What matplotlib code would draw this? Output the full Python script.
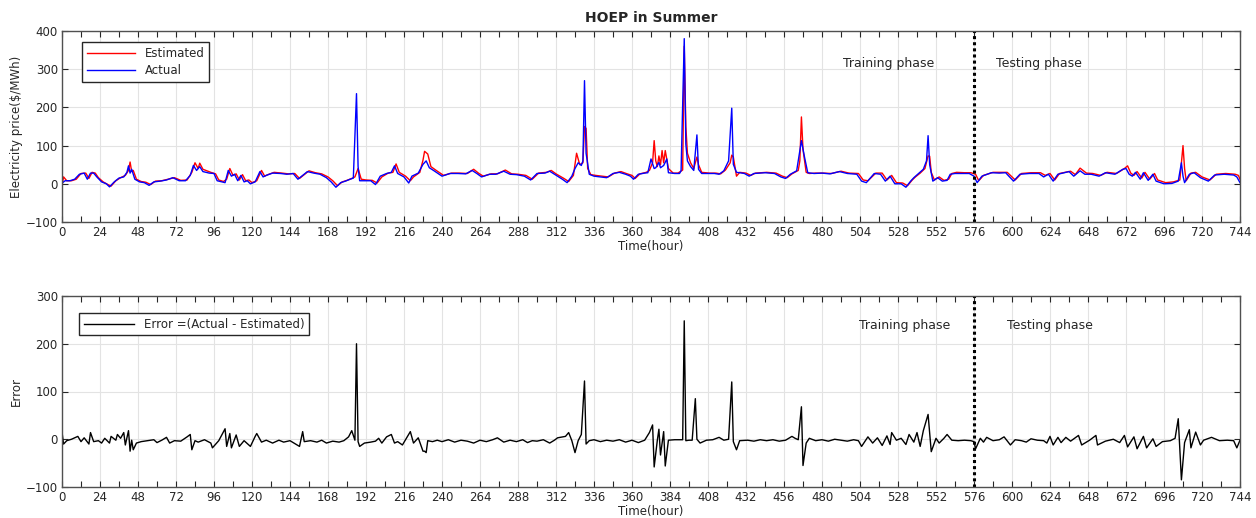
import matplotlib
matplotlib.use("Agg")
import matplotlib.pyplot as plt
from matplotlib.ticker import MultipleLocator

# hourly electricity price (hour, $/MWh)
actual_hour = [0, 2, 5, 8, 11, 14, 16, 18, 20, 22,
               25, 28, 30, 33, 36, 39, 41, 42, 43, 44,
               46, 49, 52, 55, 58, 62, 66, 70, 74, 78,
               81, 83, 85, 87, 89, 93, 96, 98, 101, 103,
               105, 107, 109, 111, 113, 115, 117, 119, 122, 125,
               127, 129, 133, 138, 142, 146, 149, 152, 155, 159,
               163, 167, 170, 173, 176, 179, 182, 184, 186, 187,
               188, 191, 195, 198, 201, 205, 208, 210, 212, 216,
               219, 221, 225, 228, 230, 232, 235, 240, 245, 250,
               255, 259, 262, 265, 270, 274, 279, 283, 287, 292,
               296, 300, 305, 308, 311, 316, 319, 322, 324, 326,
               328, 329, 330, 331, 333, 336, 340, 344, 348, 352,
               356, 359, 361, 364, 368, 370, 372, 374, 375, 377,
               378, 380, 382, 383, 387, 390, 391, 393, 394, 395,
               397, 399, 401, 402, 404, 408, 412, 415, 418, 421,
               423, 424, 426, 428, 431, 434, 437, 444, 450, 454,
               457, 460, 464, 467, 469, 471, 475, 480, 485, 491,
               496, 502, 505, 508, 513, 517, 520, 523, 526, 530,
               533, 536, 538, 541, 544, 546, 547, 548, 550, 553,
               556, 559, 561, 564, 569, 573, 576, 578, 581, 587,
               592, 596, 598, 601, 605, 611, 617, 620, 623, 626,
               629, 636, 639, 643, 646, 650, 655, 659, 665, 670,
               672, 674, 676, 678, 681, 683, 686, 689, 691, 696,
               701, 705, 707, 708, 709, 712, 715, 719, 724, 728,
               734, 740, 742, 744]
actual_price = [2, 8, 8, 12, 25, 28, 12, 28, 28, 18,
                5, 0, -8, 5, 15, 18, 30, 47, 28, 38,
                12, 5, 3, -4, 5, 7, 10, 16, 8, 8,
                22, 48, 35, 45, 32, 28, 27, 8, 5, 3,
                35, 20, 25, 8, 22, 5, 8, 0, 5, 32,
                18, 22, 28, 27, 25, 27, 12, 22, 32, 28,
                25, 16, 5, -9, 3, 7, 12, 15, 236, 45,
                8, 8, 8, -2, 20, 27, 30, 47, 27, 18,
                2, 20, 28, 51, 60, 42, 34, 20, 27, 27,
                26, 35, 27, 18, 25, 25, 33, 25, 24, 20,
                10, 27, 28, 33, 25, 12, 3, 20, 40, 55,
                48, 60, 270, 80, 25, 20, 18, 16, 27, 30,
                25, 20, 12, 25, 28, 29, 65, 40, 42, 56,
                42, 48, 65, 29, 27, 27, 34, 380, 104, 60,
                45, 35, 128, 38, 27, 27, 27, 25, 34, 60,
                198, 51, 30, 29, 27, 20, 27, 29, 27, 18,
                14, 25, 34, 113, 69, 29, 27, 28, 26, 32,
                27, 25, 7, 3, 27, 25, 7, 20, 0, 0,
                -9, 7, 16, 27, 38, 60, 126, 50, 7, 16,
                7, 9, 25, 27, 27, 27, 20, 3, 20, 29,
                28, 29, 20, 7, 25, 27, 27, 18, 25, 7,
                25, 32, 20, 34, 25, 25, 20, 29, 25, 38,
                40, 25, 20, 30, 12, 29, 9, 25, 7, 0,
                1, 7, 55, 20, 3, 25, 29, 16, 7, 23,
                25, 23, 18, 3]

est_hour = [0, 1, 3, 6, 9, 12, 15, 17, 19, 21,
            23, 26, 29, 31, 34, 37, 40, 42, 43, 44,
            45, 47, 50, 53, 56, 59, 63, 67, 71, 75,
            79, 82, 84, 86, 87, 89, 94, 97, 99, 102,
            104, 106, 108, 110, 112, 114, 116, 118, 120, 123,
            126, 128, 130, 134, 139, 143, 147, 150, 153, 156,
            160, 164, 168, 171, 174, 177, 180, 183, 185, 187,
            189, 192, 196, 199, 202, 206, 209, 211, 213, 217,
            220, 222, 226, 228, 229, 231, 233, 236, 241, 246,
            251, 256, 260, 263, 266, 271, 275, 280, 284, 288,
            293, 297, 301, 306, 309, 312, 317, 320, 323, 325,
            327, 329, 330, 331, 332, 334, 337, 341, 345, 349,
            353, 357, 360, 362, 365, 369, 371, 373, 374, 375,
            376, 377, 378, 379, 380, 381, 383, 386, 389, 392,
            393, 394, 395, 397, 399, 401, 402, 404, 409, 413,
            416, 419, 422, 423, 424, 425, 426, 428, 432, 435,
            438, 445, 451, 455, 458, 461, 465, 466, 467, 468,
            470, 472, 476, 481, 486, 492, 497, 503, 506, 509,
            514, 518, 521, 524, 527, 531, 534, 537, 539, 542,
            545, 547, 548, 549, 551, 554, 557, 560, 562, 565,
            570, 574, 577, 579, 582, 588, 593, 597, 599, 602,
            606, 612, 618, 621, 624, 627, 630, 637, 640, 643,
            647, 651, 656, 660, 666, 671, 673, 675, 677, 679,
            682, 684, 687, 690, 692, 697, 702, 706, 708, 709,
            710, 713, 716, 720, 725, 729, 735, 741, 743, 744]
est_price = [-5, 18, 8, 8, 12, 27, 28, 14, 30, 28,
             16, 5, -2, -6, 8, 16, 22, 35, 57, 32,
             35, 12, 6, 4, -2, 7, 8, 12, 16, 9,
             10, 30, 55, 40, 54, 38, 30, 26, 10, 6,
             12, 40, 22, 26, 10, 24, 8, 10, 3, 8,
             35, 20, 24, 30, 28, 26, 27, 14, 24, 34,
             29, 26, 18, 8, -5, 5, 9, 14, 18, 40,
             12, 10, 9, 2, 18, 28, 30, 52, 30, 20,
             8, 18, 30, 62, 85, 78, 45, 36, 22, 28,
             28, 27, 38, 28, 20, 26, 26, 36, 26, 25,
             22, 12, 28, 30, 35, 26, 14, 6, 22, 80,
             50, 55, 150, 145, 40, 24, 22, 20, 18, 28,
             32, 26, 22, 14, 26, 30, 35, 55, 113, 60,
             45, 73, 50, 87, 55, 87, 40, 28, 28, 36,
             360, 150, 80, 55, 40, 70, 50, 30, 28, 28,
             26, 36, 55, 75, 70, 45, 20, 30, 28, 22,
             28, 30, 28, 20, 16, 26, 35, 60, 175, 90,
             30, 27, 28, 28, 27, 33, 28, 27, 10, 8,
             28, 28, 10, 22, 3, 2, -5, 10, 18, 28,
             40, 73, 72, 30, 10, 18, 9, 12, 27, 30,
             29, 29, 25, 8, 22, 30, 30, 30, 22, 10,
             27, 29, 29, 22, 27, 10, 27, 33, 24, 41,
             28, 27, 22, 30, 27, 40, 47, 28, 22, 32,
             15, 30, 12, 27, 10, 3, 5, 10, 100, 40,
             8, 28, 30, 18, 10, 25, 27, 25, 22, 12]

# error = actual - estimated, as drawn in the lower panel
err_hour = [0, 1, 3, 6, 10, 12, 14, 17, 18, 20,
            23, 25, 27, 30, 31, 34, 35, 37, 39, 40,
            42, 43, 44, 45, 47, 50, 54, 58, 60, 63,
            66, 68, 71, 75, 79, 81, 82, 84, 86, 90,
            94, 95, 99, 103, 104, 106, 107, 110, 112, 115,
            119, 122, 123, 126, 129, 133, 137, 140, 144, 150,
            152, 153, 157, 161, 164, 167, 171, 175, 178, 181,
            183, 185, 186, 187, 188, 191, 195, 198, 200, 202,
            205, 208, 210, 212, 215, 218, 220, 222, 225, 228,
            229, 230, 231, 234, 237, 240, 244, 248, 252, 256,
            260, 264, 268, 272, 275, 279, 283, 287, 291, 294,
            297, 300, 304, 308, 311, 313, 318, 320, 322, 324,
            326, 328, 330, 331, 333, 336, 340, 344, 348, 352,
            356, 360, 364, 368, 371, 373, 374, 376, 377, 378,
            380, 381, 383, 387, 390, 392, 393, 394, 396, 398,
            400, 401, 403, 407, 411, 415, 418, 421, 423, 424,
            426, 428, 433, 437, 441, 445, 449, 453, 457, 461,
            463, 465, 467, 468, 470, 472, 476, 480, 484, 488,
            492, 496, 500, 503, 505, 509, 512, 515, 518, 521,
            523, 524, 527, 530, 533, 535, 538, 540, 542, 544,
            547, 549, 552, 554, 557, 559, 562, 566, 570, 574,
            576, 577, 580, 582, 584, 588, 592, 595, 599, 602,
            606, 609, 612, 616, 620, 622, 624, 626, 629, 631,
            634, 637, 642, 644, 649, 653, 654, 659, 664, 668,
            671, 673, 677, 679, 683, 685, 689, 691, 695, 700,
            703, 705, 707, 709, 712, 713, 716, 719, 721, 726,
            731, 736, 740, 742, 744]
err_value = [15, -10, -3, 0, 6, -5, 3, -10, 14, -5,
             -3, -8, 2, -8, 6, -2, 10, 2, 14, -12,
             18, -25, -2, -22, -8, -5, -3, -1, -7, -2,
             4, -8, -3, -4, 5, 10, -22, -3, -6, -1,
             -8, -18, -3, 22, -15, 12, -18, 9, -15, -3,
             -15, 6, 12, -6, -2, -8, -2, -6, -3, -15,
             16, -5, -3, -6, -2, -8, -4, -6, -3, 5,
             18, -2, 200, -5, -15, -8, -6, -4, 2, -8,
             5, 10, -8, -5, -12, 5, 16, -8, 3, -25,
             -25, -28, -3, -5, -2, -5, -1, -6, -2, -4,
             -8, -2, -5, -1, 3, -6, -2, -5, -1, -7,
             -3, -4, -1, -8, -2, 3, 6, 14, -3, -28,
             -3, 10, 122, -10, -3, -1, -5, -2, -4, -1,
             -6, -2, -7, -2, 14, 30, -58, -2, 21, -33,
             16, -56, -2, -1, -1, -1, 248, -3, -2, -2,
             85, 0, -8, -2, -1, 4, -2, 0, 120, -5,
             -22, -3, -2, -4, -1, -3, -1, -4, -2, 6,
             2, -1, 68, -55, -8, 2, -3, -1, -4, 0,
             -2, -4, -1, -3, -15, 5, -8, 3, -13, 7,
             -11, 14, -2, 2, -11, 10, -6, 14, -15, 18,
             52, -26, 2, -8, 2, 10, -2, -3, -2, -3,
             -5, -20, 2, -6, 4, -3, -1, 5, -12, -1,
             -3, -6, 1, -2, -3, -8, 6, -12, 4, -7,
             4, -4, 8, -12, -2, 8, -12, -4, 0, -7,
             8, -16, 5, -20, 6, -18, 1, -15, -5, -3,
             2, 43, -85, -7, 20, -18, 15, -12, -2, 4,
             -3, -2, -3, -18, -2]

split_hour = 576
hour_ticks = list(range(0, 745, 24))

assert len(actual_hour) == len(actual_price)
assert len(est_hour) == len(est_price)
assert len(err_hour) == len(err_value)

plt.rcParams['font.family'] = ['DejaVu Sans']
ink = '#262626'


def style_axes(ax, ylo, yhi, ystep):
	ax.set_xlim(0, 744)
	ax.set_ylim(ylo, yhi)
	ax.set_xticks(hour_ticks)
	ax.xaxis.set_minor_locator(MultipleLocator(12))
	ax.set_yticks(range(ylo, yhi + 1, ystep))
	ax.grid(True, which='major', color='#e3e3e3', lw=0.8)
	ax.set_axisbelow(True)
	ax.tick_params(which='both', direction='in', top=True, right=True,
				   length=4, width=0.8, color=ink, labelcolor=ink,
				   labelsize=8.5, pad=3)
	for s in ax.spines.values():
		s.set_color('#505050')
		s.set_linewidth(1.0)
	ax.axvline(split_hour, color='black', ls=(0, (1, 1)), lw=2.2)


fig = plt.figure(figsize=(12.56, 5.18), dpi=100)
ax1 = fig.add_axes([62 / 1256, 1 - 222 / 518, 1178 / 1256, 191 / 518])
ax2 = fig.add_axes([62 / 1256, 1 - 487 / 518, 1178 / 1256, 191 / 518])

# upper panel: estimated vs actual price
ax1.plot(est_hour, est_price, color='red', lw=1.0, label='Estimated')
ax1.plot(actual_hour, actual_price, color='blue', lw=1.0, label='Actual')
style_axes(ax1, -100, 400, 100)
ax1.set_title('HOEP in Summer', fontsize=10, fontweight='bold', color=ink, pad=6.5)
ax1.set_ylabel('Electricity price($/MWh)', fontsize=8.5, color=ink)
ax1.yaxis.set_label_coords(-0.033, 0.5)
ax1.set_xlabel('Time(hour)', fontsize=8.5, color=ink)
ax1.xaxis.set_label_coords(0.5, -0.094)
ax1.text(493.5, 314, 'Training phase', fontsize=9, color=ink, va='center')
ax1.text(590, 314, 'Testing phase', fontsize=9, color=ink, va='center')
leg = ax1.legend(loc='upper left', bbox_to_anchor=(0.017, 0.942), borderaxespad=0,
				 fontsize=8.5, handlelength=4.1, labelspacing=0.35, fancybox=False,
				 edgecolor=ink, framealpha=1)
leg.get_frame().set_linewidth(1.0)
for t in leg.get_texts():
	t.set_color(ink)

# lower panel: error
ax2.plot(err_hour, err_value, color='black', lw=1.0, label='Error =(Actual - Estimated)')
style_axes(ax2, -100, 300, 100)
ax2.set_ylabel('Error', fontsize=8.5, color=ink)
ax2.yaxis.set_label_coords(-0.033, 0.5)
ax2.set_xlabel('Time(hour)', fontsize=8.5, color=ink)
ax2.xaxis.set_label_coords(0.5, -0.094)
ax2.text(503.5, 239, 'Training phase', fontsize=9, color=ink, va='center')
ax2.text(597, 239, 'Testing phase', fontsize=9, color=ink, va='center')
leg2 = ax2.legend(loc='upper left', bbox_to_anchor=(0.0144, 0.911), borderaxespad=0,
				  fontsize=8.5, handlelength=4.3, fancybox=False, edgecolor=ink,
				  framealpha=1)
leg2.get_frame().set_linewidth(1.0)
for t in leg2.get_texts():
	t.set_color(ink)

fig.savefig('out.png', dpi=100)
